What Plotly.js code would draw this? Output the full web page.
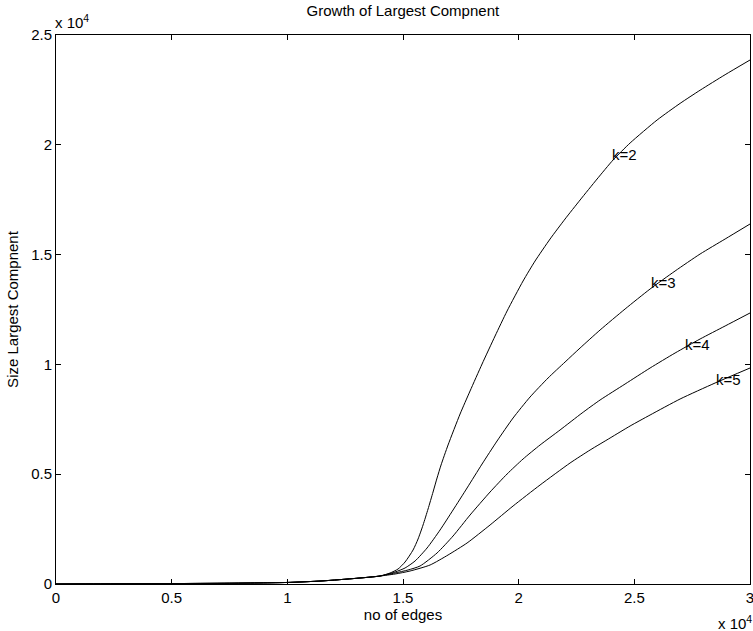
<!DOCTYPE html>
<html>
<head>
<meta charset="utf-8">
<script src="https://cdn.plot.ly/plotly-3.0.1.min.js"></script>
<style>html,body{margin:0;padding:0;background:#fff}#chart{width:753px;height:631px}</style>
</head>
<body>
<div id="chart"></div>
<script>
// Data (number of edges, size of largest component)
const k2_x = [0, 2500, 5000, 7500, 10000, 11500, 13000, 14008, 14440, 14786, 15089, 15435, 15651, 15867, 16083, 16299, 16472, 16645, 16948, 17467, 17899, 18418, 18980, 19499, 20190, 20709, 21358, 22006, 22655, 23390, 24081, 24817, 25984, 26978, 27843, 28924, 30000];
const k2_y = [0, 10, 20, 35, 70, 140, 260, 364, 501, 683, 1002, 1548, 2049, 2687, 3415, 4189, 4827, 5419, 6330, 7741, 8789, 10018, 11293, 12432, 13798, 14708, 15710, 16621, 17486, 18442, 19308, 20082, 21129, 21886, 22486, 23192, 23861];

const k3_x = [0, 2500, 5000, 7500, 10000, 11500, 13000, 14008, 14656, 15089, 15521, 16040, 16602, 17164, 17769, 18418, 19066, 19758, 20493, 21271, 22006, 22655, 23519, 24600, 25681, 26762, 27843, 28924, 30000];
const k3_y = [0, 10, 20, 35, 70, 140, 260, 364, 546, 729, 1047, 1639, 2459, 3370, 4372, 5464, 6512, 7559, 8516, 9381, 10109, 10747, 11566, 12523, 13433, 14253, 15027, 15710, 16393];

const k4_x = [0, 2500, 5000, 7500, 10000, 11500, 13000, 14008, 14656, 15218, 15737, 16472, 17164, 17899, 18764, 19499, 20190, 20925, 21789, 22741, 23519, 24600, 25681, 26762, 27843, 28924, 30000];
const k4_y = [0, 10, 20, 35, 70, 140, 260, 364, 501, 638, 820, 1412, 2186, 3142, 4189, 5009, 5692, 6330, 7013, 7787, 8379, 9107, 9836, 10519, 11157, 11749, 12341];

const k5_x = [0, 2500, 5000, 7500, 10000, 11500, 13000, 14008, 14656, 15305, 16170, 16948, 17769, 18764, 19758, 20925, 22222, 23088, 23952, 24817, 25681, 26978, 28491, 30000];
const k5_y = [0, 10, 20, 35, 70, 140, 260, 364, 455, 592, 865, 1321, 1867, 2687, 3552, 4508, 5510, 6102, 6648, 7195, 7696, 8424, 9153, 9836];

const curveNames = ['k=2', 'k=3', 'k=4', 'k=5'];
const labelX = [24020, 25710, 27210, 28530];
const labelY = [19580, 13720, 10920, 9320];

const xTickVals = [0, 5000, 10000, 15000, 20000, 25000, 30000];
const xTickText = ['0', '0.5', '1', '1.5', '2', '2.5', '3'];
const yTickVals = [0, 5000, 10000, 15000, 20000, 25000];
const yTickText = ['0', '0.5', '1', '1.5', '2', '2.5'];

const chartTitle = 'Growth of Largest Compnent';
const xTitle = 'no of edges';
const yTitle = 'Size Largest Compnent';

const xs = [k2_x, k3_x, k4_x, k5_x];
const ys = [k2_y, k3_y, k4_y, k5_y];

const font = 'Liberation Sans, Arial, Helvetica, sans-serif';
const fs = 15;

const traces = xs.map((x, i) => ({
  x: x, y: ys[i], type: 'scatter', mode: 'lines', name: curveNames[i],
  line: {color: '#000', width: 1, shape: 'spline', smoothing: 0.6},
  hoverinfo: 'skip'
}));

const annotations = curveNames.map((n, i) => ({
  x: labelX[i], y: labelY[i], xref: 'x', yref: 'y', text: n, showarrow: false,
  xanchor: 'left', yanchor: 'middle', xshift: -2, font: {family: font, size: fs, color: '#000'}
}));
annotations.push({
  xref: 'paper', yref: 'paper', x: 0, y: 1, xanchor: 'left', yanchor: 'bottom', yshift: 2, xshift: -3,
  text: 'x 10<sup>4</sup>', showarrow: false, font: {family: font, size: fs, color: '#000'}
});
annotations.push({
  xref: 'paper', yref: 'paper', x: 1, y: 0, xanchor: 'right', yanchor: 'top', yshift: -27, xshift: 4,
  text: 'x 10<sup>4</sup>', showarrow: false, font: {family: font, size: fs, color: '#000'}
});

const axisCommon = {
  showline: true, linecolor: '#000', linewidth: 1, mirror: 'ticks',
  ticks: 'inside', ticklen: 5, tickcolor: '#000', tickwidth: 1,
  showgrid: false, zeroline: false, ticklabeloverflow: 'allow',
  tickfont: {family: font, size: fs, color: '#000'}
};

const layout = {
  width: 753, height: 631,
  margin: {l: 56, r: 3, t: 35, b: 47},
  paper_bgcolor: '#fff', plot_bgcolor: '#fff',
  showlegend: false,
  title: {text: chartTitle, font: {family: font, size: fs, color: '#000'}, x: 0.535, xanchor: 'center', y: 0.992, yanchor: 'top'},
  xaxis: Object.assign({}, axisCommon, {
    range: [0, 30000], tickvals: xTickVals, ticktext: xTickText,
    title: {text: xTitle, font: {family: font, size: fs, color: '#000'}, standoff: 4}
  }),
  yaxis: Object.assign({}, axisCommon, {
    range: [0, 25000], tickvals: yTickVals, ticktext: yTickText,
    title: {text: yTitle, font: {family: font, size: fs, color: '#000'}, standoff: 8}
  }),
  annotations: annotations
};

Plotly.newPlot('chart', traces, layout, {displayModeBar: false, staticPlot: true});
</script>
</body>
</html>
